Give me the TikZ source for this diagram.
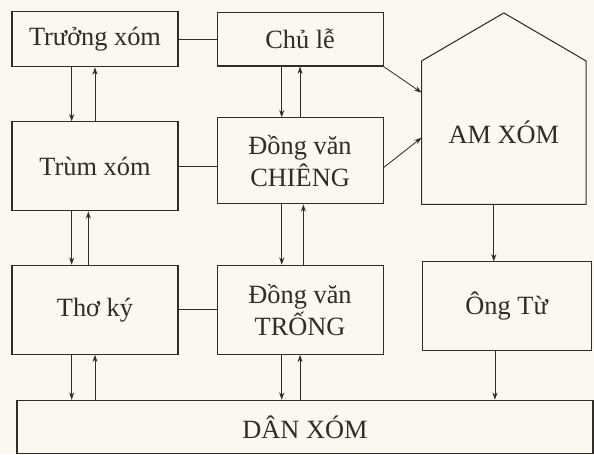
\documentclass[tikz,border=0pt]{standalone}
\usepackage{fontspec}
\setmainfont{Liberation Serif}
\usetikzlibrary{arrows.meta, positioning, calc}
\definecolor{ink}{RGB}{48,45,40}
\definecolor{paper}{RGB}{250,248,241}
\tikzset{
    orgchart/.style={>={Stealth[length=2.2mm, width=1.5mm]}, color=ink, font=\fontsize{22.5}{27}\selectfont, node distance=1.62cm and 1.14cm},
    block/.style={draw, line width=0.9pt, minimum width=4.98cm, minimum height=2.67cm, align=center, inner sep=2pt},
    link/.style={line width=0.7pt},
    % pairs of arrows between stacked boxes: down on the left, up near the middle
    downl/.style={xshift=-0.7cm},
    downm/.style={xshift=-0.55cm},
}

\begin{document}
\begin{tikzpicture}[orgchart]
        \fill[paper] (0,0) rectangle (17.82,-13.62);
        \useasboundingbox (0,0) rectangle (17.82,-13.62);

        \node[block, minimum height=1.65cm]         (truong) at (2.85,-1.18) {Trưởng xóm};
        \node[block, minimum height=1.6cm, right=of truong] (chule) {Chủ lễ};
        \node[block, below=of truong]               (trum)   {Trùm xóm};
        \node[block, minimum height=2.58cm, right=1.14cm of trum.north east, anchor=north west, yshift=0.12cm] (chieng) {Đồng văn\\CHIÊNG};
        \node[block, below=1.6cm of trum]           (thoky)  {Thơ ký};
        \node[block, right=of thoky]                (trong)  {Đồng văn\\TRỐNG};
        \node[block, minimum width=5.07cm, right=of trong, yshift=0.1cm] (ongtu) {Ông Từ};
        \node[minimum width=4.92cm, minimum height=4.29cm, right=1.14cm of chieng.south east, anchor=south west] (amxom) {AM XÓM};
        \node[block, minimum width=17.28cm, minimum height=1.59cm, below=1.35cm of thoky.south west, anchor=north west, xshift=0.15cm] (danxom) {DÂN XÓM};

        % house outline round AM XOM
        \draw[line width=0.9pt] (amxom.south west) -- (amxom.north west) -- ([yshift=1.44cm]amxom.north)
            -- (amxom.north east) -- (amxom.south east) -- cycle;

        \draw[link] (truong) -- (chule);
        \draw[link] (trum.east) -- (trum.east -| chieng.west);
        \draw[link] (thoky) -- (trong);

        \draw[link, ->] ([downl]truong.south) -- ([downl]trum.north);
        \draw[link, <-] (truong.south) -- (trum.north);
        \draw[link, ->] ([downl]trum.south) -- ([downl]thoky.north);
        \draw[link, <-] ([xshift=-0.2cm]trum.south) -- ([xshift=-0.2cm]thoky.north);
        \draw[link, ->] ([downl]thoky.south) -- ([downl]thoky.south |- danxom.north);
        \draw[link, <-] (thoky.south) -- (thoky.south |- danxom.north);

        \draw[link, ->] ([downm]chule.south) -- ([downm]chieng.north);
        \draw[link, <-] (chule.south) -- (chieng.north);
        \draw[link, ->] ([downm]chieng.south) -- ([downm]trong.north);
        \draw[link, <-] ([xshift=0.1cm]chieng.south) -- ([xshift=0.1cm]trong.north);
        \draw[link, ->] ([downm]trong.south) -- ([downm]trong.south |- danxom.north);
        \draw[link, <-] (trong.south) -- (trong.south |- danxom.north);

        \draw[link, ->] (chule.south east) -- ([yshift=-0.95cm]amxom.north west);
        \draw[link, ->] ([yshift=-0.2cm]chieng.east) -- ([yshift=-0.15cm]amxom.west);
        \draw[link, ->] ([xshift=-0.3cm]amxom.south) -- ([xshift=-0.3cm]amxom.south |- ongtu.north);
        \draw[link, ->] ([xshift=-0.35cm]ongtu.south) -- ([xshift=-0.35cm]ongtu.south |- danxom.north);
    \end{tikzpicture}
\end{document}
